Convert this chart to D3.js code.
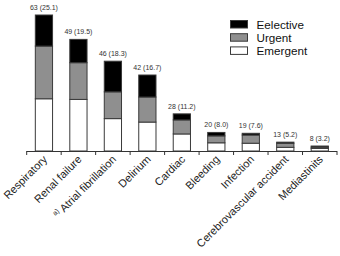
<!DOCTYPE html>
<html>
<head>
<meta charset="utf-8">
<script src="https://cdn.jsdelivr.net/npm/d3@7"></script>
<style>
  body { margin: 0; background: #fff; }
  svg { display: block; font-family: "Liberation Sans", Arial, sans-serif; }
</style>
</head>
<body>
<svg id="chart" width="340" height="256"></svg>
<script>
// categories along the x axis
const categories = ['Respiratory', 'Renal failure', 'Atrial fibrillation', 'Delirium', 'Cardiac',
  'Bleeding', 'Infection', 'Cerebrovascular accident', 'Mediastinits'];
// label printed above each bar
const topLabels = ['63 (25.1)', '49 (19.5)', '46 (18.3)', '42 (16.7)', '28 (11.2)',
  '20 (8.0)', '19 (7.6)', '13 (5.2)', '8 (3.2)'];
// segment heights as drawn (bottom -> top)
const emergent = [24.2, 23.9, 15.0, 13.4, 7.9, 3.8, 3.6, 1.7, 1.2];
const urgent   = [24.4, 17.0, 12.4, 11.6, 6.5, 3.2, 3.8, 1.9, 0.6];
const elective = [14.4, 10.8, 14.2, 10.2, 2.8, 1.6, 0.8, 0.5, 0.5];

const seriesNames = ['Emergent', 'Urgent', 'Eelective'];
const seriesFill = { Emergent: '#ffffff', Urgent: '#8f8f8f', Eelective: '#000000' };

const svg = d3.select('#chart');
const axisY = 151;

const x = d3.scaleBand().domain(categories).range([26.7, 337]).paddingInner(0.5).paddingOuter(0.25);
const y = d3.scaleLinear().domain([0, 63]).range([axisY, 15]);

const rows = categories.map((c, i) => ({
  cat: c, Emergent: emergent[i], Urgent: urgent[i], Eelective: elective[i], label: topLabels[i]
}));
const stacked = d3.stack().keys(seriesNames)(rows);

svg.append('g').selectAll('g')
  .data(stacked)
  .join('g')
  .attr('fill', d => seriesFill[d.key])
  .selectAll('rect')
  .data(d => d)
  .join('rect')
  .attr('x', d => x(d.data.cat))
  .attr('width', x.bandwidth())
  .attr('y', d => y(d[1]))
  .attr('height', d => y(d[0]) - y(d[1]))
  .attr('stroke', '#3a3a3a')
  .attr('stroke-width', 1);

// value labels above bars
svg.append('g').selectAll('text')
  .data(rows)
  .join('text')
  .attr('x', d => x(d.cat) + x.bandwidth() / 2)
  .attr('y', d => y(d.Emergent + d.Urgent + d.Eelective) - 5)
  .attr('text-anchor', 'middle')
  .attr('font-size', 7)
  .attr('fill', '#333')
  .text(d => d.label);

// x axis, ticks between categories
const edges = d3.range(categories.length + 1).map(i => x.range()[0] + i * x.step());
const ax = svg.append('g').attr('stroke', '#333').attr('stroke-width', 1);
ax.append('line').attr('x1', x.range()[0]).attr('x2', x.range()[1])
  .attr('y1', axisY + 0.5).attr('y2', axisY + 0.5);
ax.selectAll('.tick').data(edges).join('line')
  .attr('class', 'tick')
  .attr('x1', d => d).attr('x2', d => d)
  .attr('y1', axisY).attr('y2', axisY + 4);

const catText = svg.append('g').selectAll('text')
  .data(categories)
  .join('text')
  .attr('transform', d => `translate(${x(d) + x.bandwidth() / 2 + 4},${axisY + 9}) rotate(-45)`)
  .attr('text-anchor', 'end')
  .attr('font-size', 11)
  .attr('fill', '#222');
catText.each(function (d) {
  const t = d3.select(this);
  if (d === 'Atrial fibrillation') {
    t.append('tspan').attr('font-size', 7).attr('dy', -4).text('a)');
    t.append('tspan').attr('dy', 4).text(' ' + d);
  } else {
    t.text(d);
  }
});

// legend
const legend = svg.append('g').attr('transform', 'translate(230.5,20.5)');
const legItems = legend.selectAll('g')
  .data(seriesNames.slice().reverse())
  .join('g')
  .attr('transform', (d, i) => `translate(0,${i * 13.2})`);
legItems.append('rect')
  .attr('width', 17).attr('height', 7.5)
  .attr('fill', d => seriesFill[d])
  .attr('stroke', '#3a3a3a');
legItems.append('text')
  .attr('x', 26).attr('y', 8)
  .attr('font-size', 11.7)
  .attr('fill', '#111')
  .text(d => d);
</script>
</body>
</html>
